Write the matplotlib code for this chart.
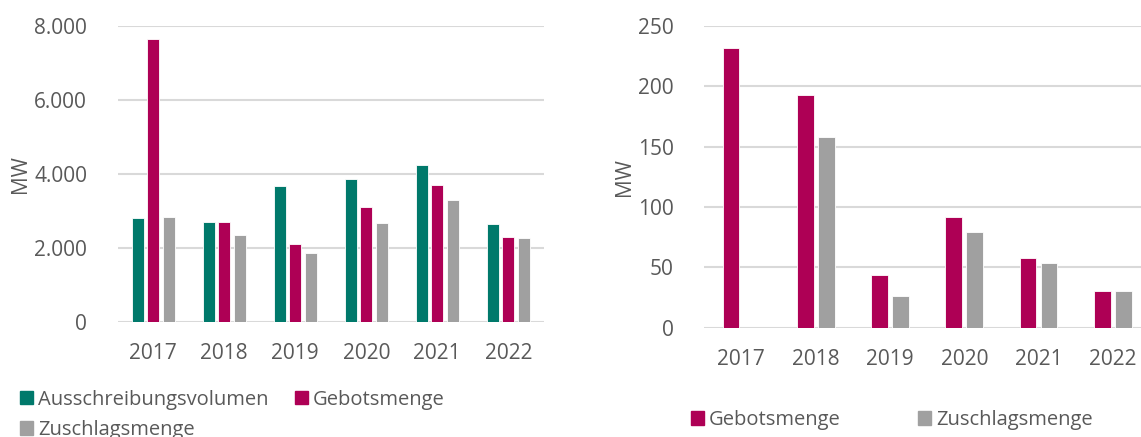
import matplotlib

matplotlib.use("Agg")
import matplotlib.pyplot as plt
import numpy as np
from matplotlib.patches import Patch
from matplotlib.ticker import FuncFormatter

plt.rcParams["font.family"] = ["Open Sans", "DejaVu Sans"]

YEARS = ["2017", "2018", "2019", "2020", "2021", "2022"]

# left panel (MW)
VOLUMEN = [2800, 2710, 3675, 3855, 4235, 2640]
GEBOT_L = [7640, 2695, 2110, 3110, 3705, 2300]
ZUSCHLAG_L = [2820, 2345, 1855, 2675, 3295, 2270]

# right panel (MW)
GEBOT_R = [231.5, 192.5, 43.5, 91.7, 57.8, 30.2]
ZUSCHLAG_R = [0, 157.8, 26.3, 79.3, 53.9, 30.2]

TEAL = "#00796b"
MAGENTA = "#ae0055"
GRAY = "#a0a0a0"
TEXT = "#595959"
GRID = "#d9d9d9"

fig = plt.figure(figsize=(11.41, 4.37), dpi=100)
ax1 = fig.add_axes([0.1032, 0.2638, 0.3734, 0.6767])
ax2 = fig.add_axes([0.6172, 0.2501, 0.3907, 0.6904])


def style(ax):
    for s in ax.spines.values():
        s.set_visible(False)
    ax.grid(axis="y", color=GRID, linewidth=1.5)
    ax.set_axisbelow(True)
    ax.tick_params(length=0, labelsize=15, colors=TEXT)
    ax.tick_params(axis="y", pad=22)
    ax.tick_params(axis="x", pad=15)
    ax.set_ylabel("MW", fontsize=15, color=TEXT, labelpad=2)
    ax.set_xlim(-0.5, len(YEARS) - 0.5)
    ax.set_xticks(np.arange(len(YEARS)))
    ax.set_xticklabels(YEARS)


x = np.arange(len(YEARS))
w1 = 0.173
step1 = 0.218
ax1.bar(x - step1, VOLUMEN, w1, color=TEAL, edgecolor="white", linewidth=0.6)
ax1.bar(x, GEBOT_L, w1, color=MAGENTA, edgecolor="white", linewidth=0.6)
ax1.bar(x + step1, ZUSCHLAG_L, w1, color=GRAY, edgecolor="white", linewidth=0.6)
style(ax1)
ax1.set_ylim(0, 8000)
ax1.set_yticks([0, 2000, 4000, 6000, 8000])
ax1.yaxis.set_major_formatter(FuncFormatter(lambda v, _: f"{v:,.0f}".replace(",", ".")))

w2 = 0.225
step2 = 0.283
ax2.bar(x - step2 / 2, GEBOT_R, w2, color=MAGENTA, edgecolor="white", linewidth=0.6)
ax2.bar(x + step2 / 2, ZUSCHLAG_R, w2, color=GRAY, edgecolor="white", linewidth=0.6)
style(ax2)
ax2.set_ylim(0, 250)
ax2.set_yticks([0, 50, 100, 150, 200, 250])

# legends below each panel
h_vol = Patch(color=TEAL, label="Ausschreibungsvolumen")
h_geb = Patch(color=MAGENTA, label="Gebotsmenge")
h_zus = Patch(color=GRAY, label="Zuschlagsmenge")
leg_kw = dict(frameon=False, fontsize=14.5, labelcolor=TEXT, handlelength=0.65,
              handleheight=0.65, handletextpad=0.25, borderpad=0, borderaxespad=0,
              loc="upper left")
fig.legend(handles=[h_vol, h_zus, h_geb], ncol=2, columnspacing=1.3,
           labelspacing=0.5, bbox_to_anchor=(0.0175, 0.108), **leg_kw)
fig.legend(handles=[h_geb, h_zus], ncol=2, columnspacing=3.85,
           bbox_to_anchor=(0.6055, 0.062), **leg_kw)

fig.savefig("out.png", dpi=100)
